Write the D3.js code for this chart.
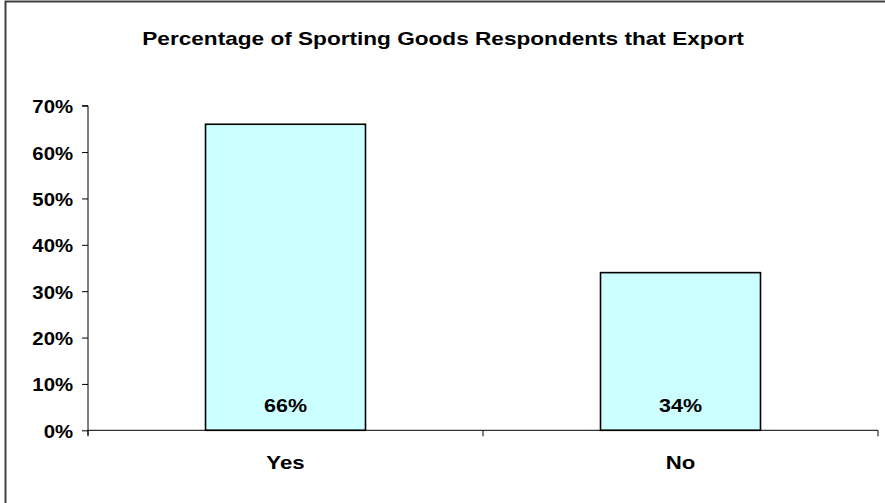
<!DOCTYPE html>
<html>
<head>
<meta charset="utf-8">
<script src="https://cdn.jsdelivr.net/npm/d3@7"></script>
<style>
  html, body { margin: 0; padding: 0; background: #fff; }
  svg { display: block; }
  text { font-family: "Liberation Sans", Arial, sans-serif; font-weight: bold; fill: #000; }
</style>
</head>
<body>
<svg id="chart" width="885" height="503"></svg>
<script>
// Survey answers and their shares
const categories = ["Yes", "No"];
const shares = [0.66, 0.34];
const yTicks = [0, 0.1, 0.2, 0.3, 0.4, 0.5, 0.6, 0.7];
const titleText = "Percentage of Sporting Goods Respondents that Export";

const svg = d3.select("#chart");
const W = 885, H = 503;
const plot = { left: 88, right: 878, top: 105.7, bottom: 430.3 };
const pct = d3.format(".0%");

// Place a text at (x, y) with a horizontal stretch of the glyphs
function placeText(sel, x, y, sx) {
  sel.attr("transform", (d, i) => {
    const px = typeof x === "function" ? x(d, i) : x;
    const py = typeof y === "function" ? y(d, i) : y;
    return `translate(${px},${py}) scale(${sx},1)`;
  });
}

// Outer frame of the chart area
svg.append("rect")
  .attr("x", 5.5).attr("y", 1.5)
  .attr("width", W + 10).attr("height", H + 10)
  .attr("fill", "#fff").attr("stroke", "#404040").attr("stroke-width", 2);

svg.append("text")
  .attr("text-anchor", "middle")
  .style("font-size", "19px")
  .text(titleText)
  .call(placeText, 443, 45, 1.19);

const x = d3.scaleBand().domain(categories).range([plot.left, plot.right]).paddingInner(0.595).paddingOuter(0.2975);
const y = d3.scaleLinear().domain([0, 0.7]).range([plot.bottom, plot.top]);
const rows = categories.map((c, i) => ({ c, v: shares[i] }));

// Bars
svg.append("g").selectAll("rect")
  .data(rows)
  .join("rect")
  .attr("x", d => x(d.c))
  .attr("y", d => y(d.v))
  .attr("width", x.bandwidth())
  .attr("height", d => y(0) - y(d.v))
  .attr("fill", "#CCFFFF")
  .attr("stroke", "#000")
  .attr("stroke-width", 1.6);

// Value labels inside the bars near the base
svg.append("g").selectAll("text")
  .data(rows)
  .join("text")
  .attr("text-anchor", "middle")
  .style("font-size", "19px")
  .text(d => pct(d.v))
  .call(placeText, d => x(d.c) + x.bandwidth() / 2, 412, 1.13);

// Y axis
const yAxis = d3.axisLeft(y).tickValues(yTicks).tickFormat(pct).tickSize(6).tickPadding(0);
const gy = svg.append("g").attr("transform", `translate(${plot.left},0)`).call(yAxis);
gy.select(".domain").attr("stroke", "#000").attr("d", `M-6,${plot.top}H0V${plot.bottom + 5}`);
gy.selectAll(".tick line").attr("stroke", "#000");
gy.selectAll(".tick text")
  .style("font-size", "19px")
  .style("font-family", "\"Liberation Sans\", Arial, sans-serif")
  .attr("fill", "#000")
  .attr("x", null).attr("dy", null)
  .call(placeText, -15, 7, 1.07);

// X axis with tick marks at the category boundaries
const gx = svg.append("g");
gx.append("line")
  .attr("x1", plot.left).attr("x2", plot.right)
  .attr("y1", plot.bottom).attr("y2", plot.bottom)
  .attr("stroke", "#000").attr("stroke-width", 1);
const boundaries = [plot.left, (plot.left + plot.right) / 2, plot.right];
gx.selectAll("line.tk")
  .data(boundaries)
  .join("line").attr("class", "tk")
  .attr("x1", d => d).attr("x2", d => d)
  .attr("y1", plot.bottom).attr("y2", plot.bottom + 6)
  .attr("stroke", "#000");

svg.append("g").selectAll("text")
  .data(categories)
  .join("text")
  .attr("text-anchor", "middle")
  .style("font-size", "19px")
  .text(d => d)
  .call(placeText, d => x(d) + x.bandwidth() / 2, 469, 1.17);
</script>
</body>
</html>
